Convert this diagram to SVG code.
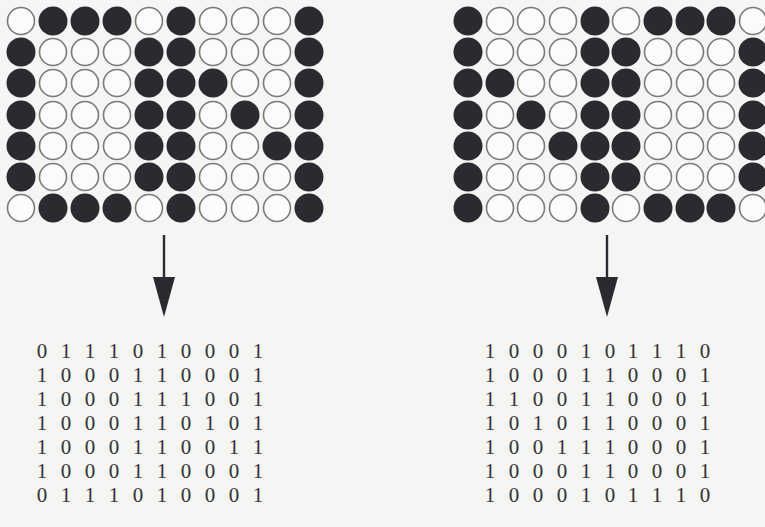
<svg xmlns="http://www.w3.org/2000/svg" width="765" height="527" viewBox="0 0 765 527">
<style>
.b{fill:#2b2a30}
.w{fill:#fbfbfa;stroke:#7a7a7a;stroke-width:1.6}
.t{font-family:"Liberation Serif","Times New Roman",serif;font-size:21px;fill:#333;text-anchor:middle}
.ln{stroke:#2b2a30;stroke-width:2.4}
.hd{fill:#2b2a30}
</style>
<rect width="765" height="527" fill="#f5f5f3"/>
<g id="grid-left">
<circle class="w" cx="21" cy="21" r="13.5"/><circle class="b" cx="53" cy="21" r="14.5"/><circle class="b" cx="85" cy="21" r="14.5"/><circle class="b" cx="117" cy="21" r="14.5"/><circle class="w" cx="149" cy="21" r="13.5"/><circle class="b" cx="181" cy="21" r="14.5"/><circle class="w" cx="213" cy="21" r="13.5"/><circle class="w" cx="245" cy="21" r="13.5"/><circle class="w" cx="277" cy="21" r="13.5"/><circle class="b" cx="309" cy="21" r="14.5"/>
<circle class="b" cx="21" cy="52" r="14.5"/><circle class="w" cx="53" cy="52" r="13.5"/><circle class="w" cx="85" cy="52" r="13.5"/><circle class="w" cx="117" cy="52" r="13.5"/><circle class="b" cx="149" cy="52" r="14.5"/><circle class="b" cx="181" cy="52" r="14.5"/><circle class="w" cx="213" cy="52" r="13.5"/><circle class="w" cx="245" cy="52" r="13.5"/><circle class="w" cx="277" cy="52" r="13.5"/><circle class="b" cx="309" cy="52" r="14.5"/>
<circle class="b" cx="21" cy="83" r="14.5"/><circle class="w" cx="53" cy="83" r="13.5"/><circle class="w" cx="85" cy="83" r="13.5"/><circle class="w" cx="117" cy="83" r="13.5"/><circle class="b" cx="149" cy="83" r="14.5"/><circle class="b" cx="181" cy="83" r="14.5"/><circle class="b" cx="213" cy="83" r="14.5"/><circle class="w" cx="245" cy="83" r="13.5"/><circle class="w" cx="277" cy="83" r="13.5"/><circle class="b" cx="309" cy="83" r="14.5"/>
<circle class="b" cx="21" cy="115" r="14.5"/><circle class="w" cx="53" cy="115" r="13.5"/><circle class="w" cx="85" cy="115" r="13.5"/><circle class="w" cx="117" cy="115" r="13.5"/><circle class="b" cx="149" cy="115" r="14.5"/><circle class="b" cx="181" cy="115" r="14.5"/><circle class="w" cx="213" cy="115" r="13.5"/><circle class="b" cx="245" cy="115" r="14.5"/><circle class="w" cx="277" cy="115" r="13.5"/><circle class="b" cx="309" cy="115" r="14.5"/>
<circle class="b" cx="21" cy="146" r="14.5"/><circle class="w" cx="53" cy="146" r="13.5"/><circle class="w" cx="85" cy="146" r="13.5"/><circle class="w" cx="117" cy="146" r="13.5"/><circle class="b" cx="149" cy="146" r="14.5"/><circle class="b" cx="181" cy="146" r="14.5"/><circle class="w" cx="213" cy="146" r="13.5"/><circle class="w" cx="245" cy="146" r="13.5"/><circle class="b" cx="277" cy="146" r="14.5"/><circle class="b" cx="309" cy="146" r="14.5"/>
<circle class="b" cx="21" cy="177" r="14.5"/><circle class="w" cx="53" cy="177" r="13.5"/><circle class="w" cx="85" cy="177" r="13.5"/><circle class="w" cx="117" cy="177" r="13.5"/><circle class="b" cx="149" cy="177" r="14.5"/><circle class="b" cx="181" cy="177" r="14.5"/><circle class="w" cx="213" cy="177" r="13.5"/><circle class="w" cx="245" cy="177" r="13.5"/><circle class="w" cx="277" cy="177" r="13.5"/><circle class="b" cx="309" cy="177" r="14.5"/>
<circle class="w" cx="21" cy="208" r="13.5"/><circle class="b" cx="53" cy="208" r="14.5"/><circle class="b" cx="85" cy="208" r="14.5"/><circle class="b" cx="117" cy="208" r="14.5"/><circle class="w" cx="149" cy="208" r="13.5"/><circle class="b" cx="181" cy="208" r="14.5"/><circle class="w" cx="213" cy="208" r="13.5"/><circle class="w" cx="245" cy="208" r="13.5"/><circle class="w" cx="277" cy="208" r="13.5"/><circle class="b" cx="309" cy="208" r="14.5"/>
</g>
<g id="grid-right">
<circle class="b" cx="468" cy="21" r="14.5"/><circle class="w" cx="500" cy="21" r="13.5"/><circle class="w" cx="531" cy="21" r="13.5"/><circle class="w" cx="563" cy="21" r="13.5"/><circle class="b" cx="595" cy="21" r="14.5"/><circle class="w" cx="626" cy="21" r="13.5"/><circle class="b" cx="658" cy="21" r="14.5"/><circle class="b" cx="690" cy="21" r="14.5"/><circle class="b" cx="721" cy="21" r="14.5"/><circle class="w" cx="753" cy="21" r="13.5"/>
<circle class="b" cx="468" cy="52" r="14.5"/><circle class="w" cx="500" cy="52" r="13.5"/><circle class="w" cx="531" cy="52" r="13.5"/><circle class="w" cx="563" cy="52" r="13.5"/><circle class="b" cx="595" cy="52" r="14.5"/><circle class="b" cx="626" cy="52" r="14.5"/><circle class="w" cx="658" cy="52" r="13.5"/><circle class="w" cx="690" cy="52" r="13.5"/><circle class="w" cx="721" cy="52" r="13.5"/><circle class="b" cx="753" cy="52" r="14.5"/>
<circle class="b" cx="468" cy="83" r="14.5"/><circle class="b" cx="500" cy="83" r="14.5"/><circle class="w" cx="531" cy="83" r="13.5"/><circle class="w" cx="563" cy="83" r="13.5"/><circle class="b" cx="595" cy="83" r="14.5"/><circle class="b" cx="626" cy="83" r="14.5"/><circle class="w" cx="658" cy="83" r="13.5"/><circle class="w" cx="690" cy="83" r="13.5"/><circle class="w" cx="721" cy="83" r="13.5"/><circle class="b" cx="753" cy="83" r="14.5"/>
<circle class="b" cx="468" cy="115" r="14.5"/><circle class="w" cx="500" cy="115" r="13.5"/><circle class="b" cx="531" cy="115" r="14.5"/><circle class="w" cx="563" cy="115" r="13.5"/><circle class="b" cx="595" cy="115" r="14.5"/><circle class="b" cx="626" cy="115" r="14.5"/><circle class="w" cx="658" cy="115" r="13.5"/><circle class="w" cx="690" cy="115" r="13.5"/><circle class="w" cx="721" cy="115" r="13.5"/><circle class="b" cx="753" cy="115" r="14.5"/>
<circle class="b" cx="468" cy="146" r="14.5"/><circle class="w" cx="500" cy="146" r="13.5"/><circle class="w" cx="531" cy="146" r="13.5"/><circle class="b" cx="563" cy="146" r="14.5"/><circle class="b" cx="595" cy="146" r="14.5"/><circle class="b" cx="626" cy="146" r="14.5"/><circle class="w" cx="658" cy="146" r="13.5"/><circle class="w" cx="690" cy="146" r="13.5"/><circle class="w" cx="721" cy="146" r="13.5"/><circle class="b" cx="753" cy="146" r="14.5"/>
<circle class="b" cx="468" cy="177" r="14.5"/><circle class="w" cx="500" cy="177" r="13.5"/><circle class="w" cx="531" cy="177" r="13.5"/><circle class="w" cx="563" cy="177" r="13.5"/><circle class="b" cx="595" cy="177" r="14.5"/><circle class="b" cx="626" cy="177" r="14.5"/><circle class="w" cx="658" cy="177" r="13.5"/><circle class="w" cx="690" cy="177" r="13.5"/><circle class="w" cx="721" cy="177" r="13.5"/><circle class="b" cx="753" cy="177" r="14.5"/>
<circle class="b" cx="468" cy="208" r="14.5"/><circle class="w" cx="500" cy="208" r="13.5"/><circle class="w" cx="531" cy="208" r="13.5"/><circle class="w" cx="563" cy="208" r="13.5"/><circle class="b" cx="595" cy="208" r="14.5"/><circle class="w" cx="626" cy="208" r="13.5"/><circle class="b" cx="658" cy="208" r="14.5"/><circle class="b" cx="690" cy="208" r="14.5"/><circle class="b" cx="721" cy="208" r="14.5"/><circle class="w" cx="753" cy="208" r="13.5"/>
</g>
<g id="connectors">
<line class="ln" x1="164" y1="235" x2="164" y2="282"/>
<polygon class="hd" points="153,277 175,277 164,317"/>
<line class="ln" x1="607" y1="235" x2="607" y2="282"/>
<polygon class="hd" points="596,277 618,277 607,317"/>
</g>
<g id="matrix-left" class="t">
<text x="42 66 90 114 138 162 186 210 234 258" y="358">0111010001</text>
<text x="42 66 90 114 138 162 186 210 234 258" y="382">1000110001</text>
<text x="42 66 90 114 138 162 186 210 234 258" y="406">1000111001</text>
<text x="42 66 90 114 138 162 186 210 234 258" y="430">1000110101</text>
<text x="42 66 90 114 138 162 186 210 234 258" y="454">1000110011</text>
<text x="42 66 90 114 138 162 186 210 234 258" y="478">1000110001</text>
<text x="42 66 90 114 138 162 186 210 234 258" y="502">0111010001</text>
</g>
<g id="matrix-right" class="t">
<text x="490 514 538 562 586 610 633 657 681 705" y="358">1000101110</text>
<text x="490 514 538 562 586 610 633 657 681 705" y="382">1000110001</text>
<text x="490 514 538 562 586 610 633 657 681 705" y="406">1100110001</text>
<text x="490 514 538 562 586 610 633 657 681 705" y="430">1010110001</text>
<text x="490 514 538 562 586 610 633 657 681 705" y="454">1001110001</text>
<text x="490 514 538 562 586 610 633 657 681 705" y="478">1000110001</text>
<text x="490 514 538 562 586 610 633 657 681 705" y="502">1000101110</text>
</g>
</svg>
